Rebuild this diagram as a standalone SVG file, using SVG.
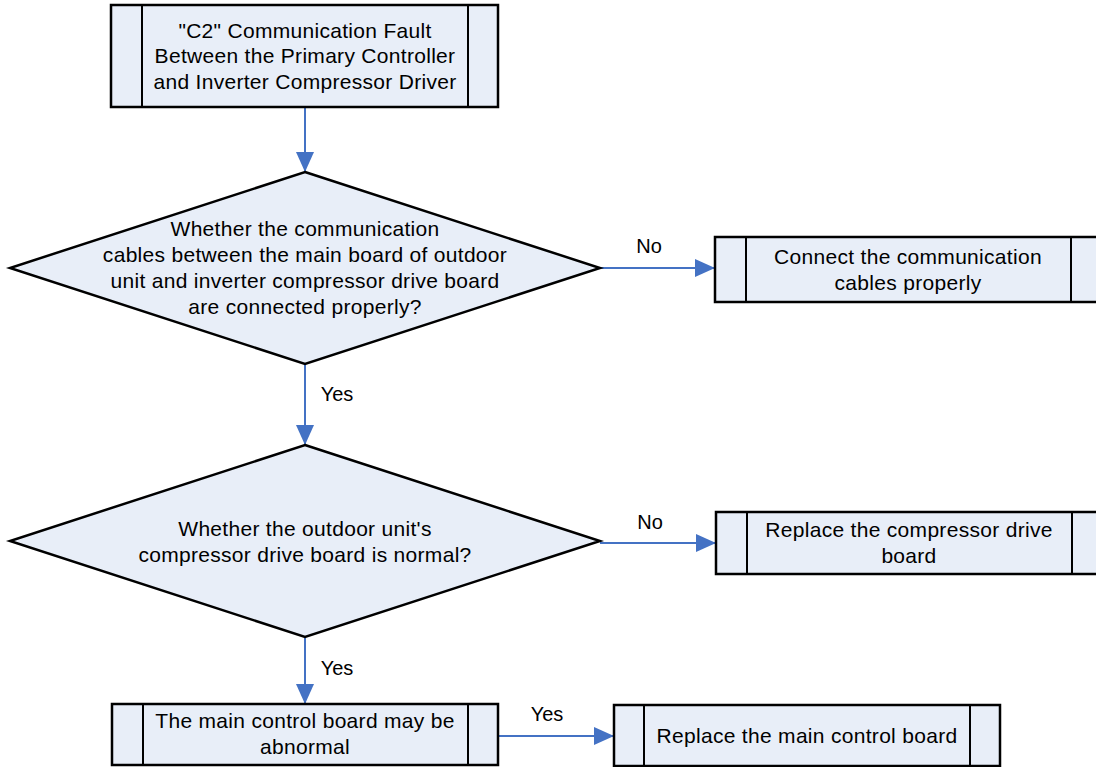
<svg xmlns="http://www.w3.org/2000/svg" width="1096" height="767" viewBox="0 0 1096 767">
<defs>
<style>
.box{fill:#E8EEF8;stroke:#000;stroke-width:2.5}
.in{stroke:#000;stroke-width:2;fill:none}
.t{font-family:"Liberation Sans",Arial,sans-serif;font-size:21px;letter-spacing:0.3px;fill:#000;text-anchor:middle}
.c{stroke:#4472C4;stroke-width:2;fill:none}
.lb{font-family:"Liberation Sans",Arial,sans-serif;font-size:20px;fill:#000;text-anchor:middle}
</style>
<marker id="ah" markerWidth="20" markerHeight="18" refX="20" refY="9" orient="auto" markerUnits="userSpaceOnUse">
<path d="M0,0 L20,9 L0,18 Z" fill="#4472C4"/>
</marker>
</defs>
<rect width="1096" height="767" fill="#fff"/>
<g id="connectors">
<line class="c" x1="305" y1="107" x2="305" y2="172" marker-end="url(#ah)"/>
<line class="c" x1="600" y1="268" x2="715" y2="268" marker-end="url(#ah)"/>
<text class="lb" x="649" y="253">No</text>
<line class="c" x1="305" y1="364" x2="305" y2="445" marker-end="url(#ah)"/>
<text class="lb" x="337" y="401">Yes</text>
<line class="c" x1="600" y1="543" x2="716" y2="543" marker-end="url(#ah)"/>
<text class="lb" x="650" y="529">No</text>
<line class="c" x1="305" y1="637" x2="305" y2="704" marker-end="url(#ah)"/>
<text class="lb" x="337" y="675">Yes</text>
<line class="c" x1="498" y1="736" x2="614" y2="736" marker-end="url(#ah)"/>
<text class="lb" x="547" y="721">Yes</text>
</g>
<g id="start">
<rect class="box" x="111" y="5" width="387" height="102"/>
<line class="in" x1="142" y1="5" x2="142" y2="107"/>
<line class="in" x1="468" y1="5" x2="468" y2="107"/>
<text class="t" x="305" y="38">"C2" Communication Fault</text>
<text class="t" x="305" y="63">Between the Primary Controller</text>
<text class="t" x="305" y="89">and Inverter Compressor Driver</text>
</g>
<g id="decision1">
<polygon class="box" points="305,172 600,268 305,364 10,268"/>
<text class="t" x="305" y="236">Whether the communication</text>
<text class="t" x="305" y="262">cables between the main board of outdoor</text>
<text class="t" x="305" y="288">unit and inverter compressor drive board</text>
<text class="t" x="305" y="314">are connected properly?</text>
</g>
<g id="connect">
<rect class="box" x="715" y="237" width="387" height="65"/>
<line class="in" x1="746" y1="237" x2="746" y2="302"/>
<line class="in" x1="1071" y1="237" x2="1071" y2="302"/>
<text class="t" x="908" y="264">Connect the communication</text>
<text class="t" x="908" y="290">cables properly</text>
</g>
<g id="decision2">
<polygon class="box" points="305,445 600,541 305,637 10,541"/>
<text class="t" x="305" y="536">Whether the outdoor unit's</text>
<text class="t" x="305" y="562">compressor drive board is normal?</text>
</g>
<g id="replaceDrive">
<rect class="box" x="716" y="512" width="387" height="62"/>
<line class="in" x1="747" y1="512" x2="747" y2="574"/>
<line class="in" x1="1072" y1="512" x2="1072" y2="574"/>
<text class="t" x="909" y="537">Replace the compressor drive</text>
<text class="t" x="909" y="563">board</text>
</g>
<g id="mainBoard">
<rect class="box" x="112" y="704" width="386" height="61"/>
<line class="in" x1="143" y1="704" x2="143" y2="765"/>
<line class="in" x1="468" y1="704" x2="468" y2="765"/>
<text class="t" x="305" y="728">The main control board may be</text>
<text class="t" x="305" y="754">abnormal</text>
</g>
<g id="replaceMain">
<rect class="box" x="614" y="705" width="386" height="61"/>
<line class="in" x1="644" y1="705" x2="644" y2="766"/>
<line class="in" x1="970" y1="705" x2="970" y2="766"/>
<text class="t" x="807" y="743">Replace the main control board</text>
</g>
</svg>
